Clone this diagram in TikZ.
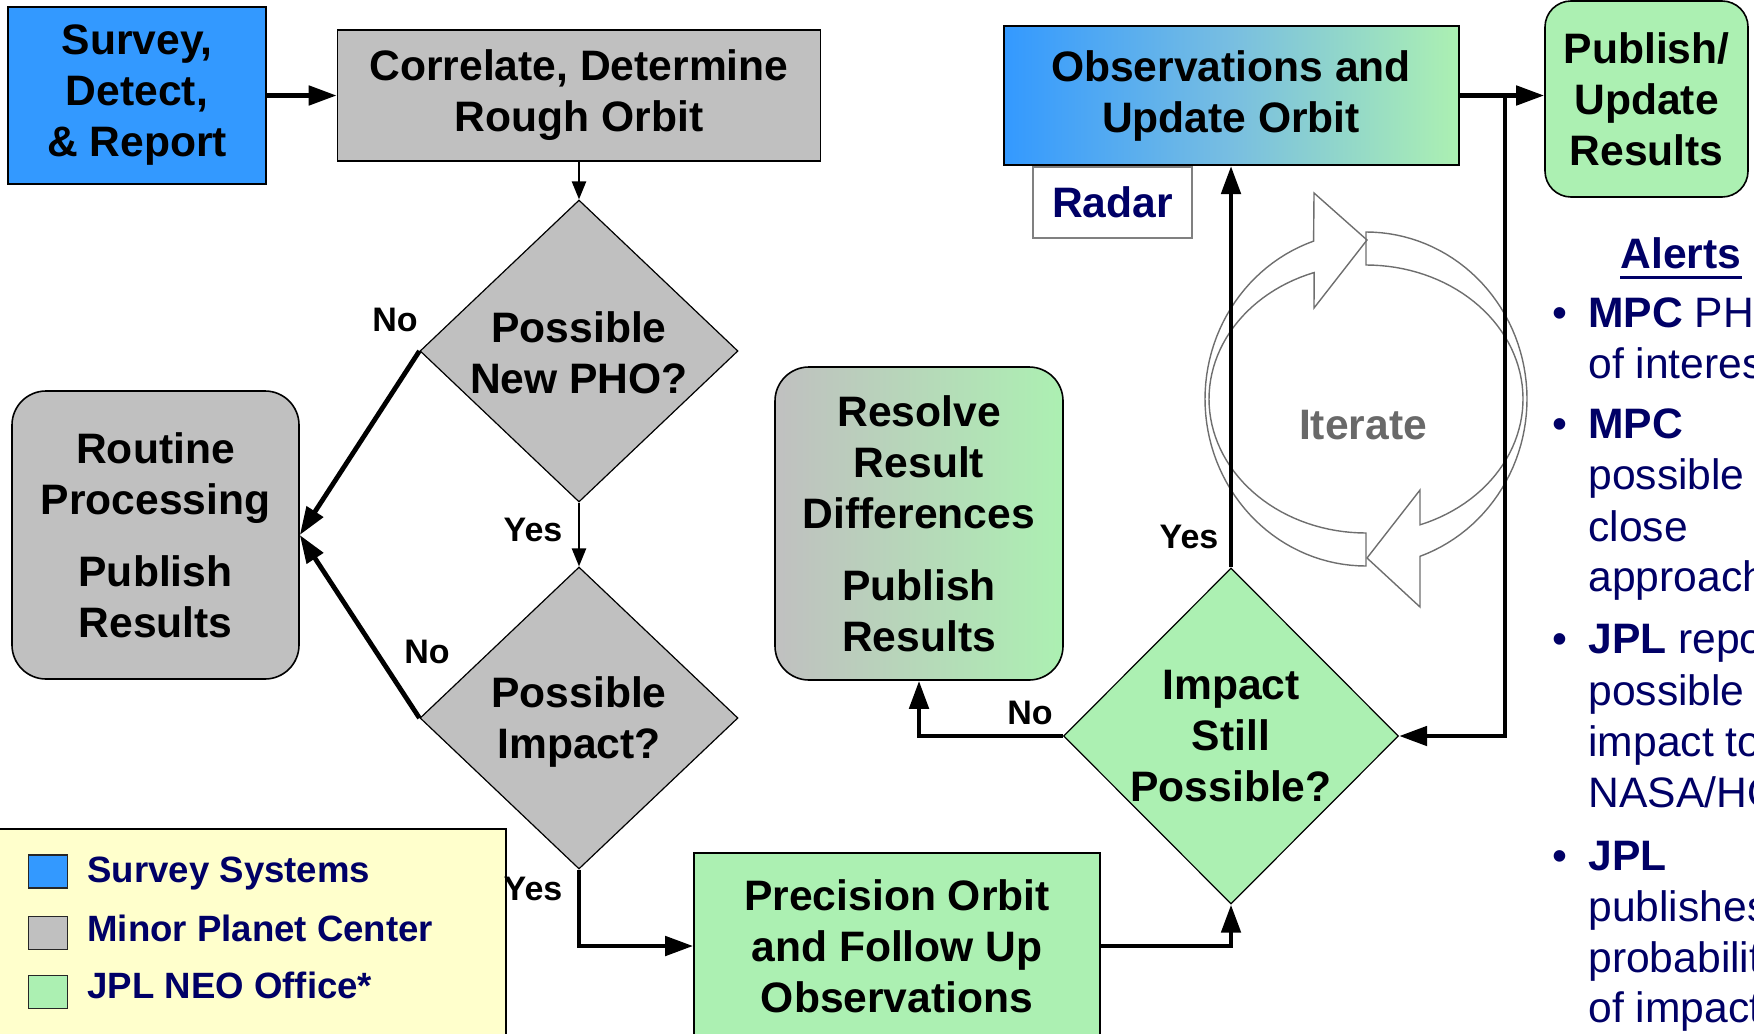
\documentclass[tikz,border=0pt]{standalone}
\usepackage{fontspec}
\setmainfont{Liberation Sans}
\usetikzlibrary{shapes.geometric, arrows.meta}

\definecolor{cblue}{RGB}{51,153,255}
\definecolor{cgray}{RGB}{192,192,192}
\definecolor{cgreen}{RGB}{172,240,178}
\definecolor{cyellow}{RGB}{255,255,204}
\definecolor{cnavy}{RGB}{0,0,102}
\definecolor{citer}{RGB}{105,105,105}
\definecolor{cmid}{RGB}{120,190,225}
\definecolor{cring}{RGB}{110,110,110}

\begin{document}
\begin{tikzpicture}[x=0.5pt, y=-0.5pt,
  boxfont/.style={font=\bfseries\fontsize{21.3}{25.5}\selectfont},
  box/.style={draw=black, line width=0.8pt, inner sep=0pt, align=center, boxfont},
  rbox/.style={box, rounded corners=17pt},
  dia/.style={diamond, draw=black, line width=0.6pt, inner sep=0pt},
  txt/.style={align=center, boxfont, inner sep=0pt},
  lbl/.style={font=\bfseries\fontsize{17}{20}\selectfont, inner sep=0pt},
  conn/.style={line width=2.4pt, -{Triangle[length=14pt,width=9.5pt]}},
  thinconn/.style={line width=1.2pt, -{Triangle[length=9pt,width=7pt]}},
  itr/.style={draw=cring, line width=0.7pt},
  sq/.style={draw=black!85, line width=0.7pt, minimum width=19.5pt, minimum height=16.5pt, inner sep=0pt},
  legtxt/.style={font=\bfseries\fontsize{18.3}{22}\selectfont, text=cnavy, inner sep=0pt},
  bul/.style={font=\fontsize{21.3}{25}\selectfont, text=cnavy, inner sep=0pt, anchor=base west},
  dot/.style={font=\fontsize{21.3}{25}\selectfont, text=cnavy, inner sep=0pt, anchor=base}
]
\useasboundingbox (0,0) rectangle (1754,1033);
\clip (0,0) rectangle (1754,1033);

% legend
\node[draw=black, line width=0.8pt, fill=cyellow, minimum width=255.5pt, minimum height=105.5pt, inner sep=0pt] (legend) at (250.5,934.5) {};
\node[sq, fill=cblue] (sq1) at (48,871.5) {};
\node[sq, fill=cgray] (sq2) at (48,933) {};
\node[sq, fill=cgreen] (sq3) at (48,992) {};
\node[legtxt, anchor=base west] (lg1) at (87,882) {Survey Systems};
\node[legtxt, anchor=base west] (lg2) at (87,941) {Minor Planet Center};
\node[legtxt, anchor=base west] (lg3) at (87,998) {JPL NEO Office*};

% iterate symbol
\draw[itr] plot[domain=90:251,samples=60] ({1366+161*cos(\x)},{399+167*sin(\x)})
  -- (1314,193) -- (1367,240) -- (1314,308)
  -- plot[domain=250.7:90,samples=60] ({1366+157*cos(\x)},{399+134*sin(\x)}) -- cycle;
\draw[itr] plot[domain=270:430.4,samples=60] ({1366+161*cos(\x)},{399+167*sin(\x)})
  -- (1420,607) -- (1367,558) -- (1420,490)
  -- plot[domain=429.9:270,samples=60] ({1366+157*cos(\x)},{399+134*sin(\x)}) -- cycle;
\node[font=\bfseries\fontsize{21.3}{25}\selectfont, text=citer, inner sep=0pt] (iter) at (1363,425) {Iterate};

% boxes
\node[box, fill=cblue, minimum width=129pt, minimum height=88.5pt] (survey) at (137,95.5) {Survey,\\Detect,\\\& Report};
\node[box, fill=cgray, minimum width=241.5pt, minimum height=65.5pt] (corr) at (579,95.5) {Correlate, Determine\\Rough Orbit};
\node[dia, fill=cgray, minimum width=159pt, minimum height=151pt] (d1) at (579,351) {};
\node[txt] (t1) at ([yshift=-1pt]d1.center) {Possible\\New PHO?};
\node[dia, fill=cgray, minimum width=159pt, minimum height=151pt] (d2) at (579,718) {};
\node[txt] (t2) at ([yshift=-2pt]d2.center) {Possible\\Impact?};
\node[rbox, fill=cgray, minimum width=143.5pt, minimum height=144pt] (rout) at (155.5,535) {Routine\\Processing\\[10.5pt]Publish\\Results};
\node[box, fill=cgreen, minimum width=203pt, minimum height=93pt] (prec) at (897,946) {Precision Orbit\\and Follow Up\\Observations};
\node[dia, fill=cgreen, minimum width=167.5pt, minimum height=168pt] (d3) at (1231,736) {};
\node[txt] (t3) at (d3.center) {Impact\\Still\\Possible?};
\node[rbox, left color=cgray, right color=cgreen, minimum width=144pt, minimum height=156.5pt] (res) at (919,523.5) {Resolve\\Result\\Differences\\[10.5pt]Publish\\Results};
\node[box, line width=1pt, left color=cblue, right color=cgreen, middle color=cmid, minimum width=227.5pt, minimum height=69.5pt] (obs) at (1231,95.5) {Observations and\\Update Orbit};
\node[draw=gray, line width=0.6pt, fill=white, minimum width=79.5pt, minimum height=35.5pt, inner sep=0pt, font=\bfseries\fontsize{21.3}{25}\selectfont, text=cnavy] (radar) at (1112.5,202.5) {Radar};
\node[rbox, rounded corners=13pt, fill=cgreen, minimum width=101.5pt, minimum height=98pt] (pub) at (1646.5,99) {Publish/\\Update\\Results};

% connectors
\draw[conn] (survey.east) -- (corr.west);
\draw[thinconn] (corr.south) -- (d1.north);
\draw[thinconn] (d1.south) -- (d2.north);
\draw[conn] (d1.west) -- (rout.east);
\draw[conn] (d2.west) -- (rout.east);
\draw[conn] (d2.south) |- (prec.west);
\draw[conn] (prec.east) -| (d3.south);
\draw[conn] (d3.west) -| (res.south);
\draw[conn] (d3.north) -- (obs.south);
\draw[conn] (obs.east) -- (obs.east -| pub.west);
\coordinate (jn) at (1505,95.5);
\draw[conn] (jn) |- (d3.east);

% labels
\node[lbl] (no1) at (395,320) {No};
\node[lbl] (yes1) at (533,530) {Yes};
\node[lbl] (no2) at (427,652) {No};
\node[lbl] (yes2) at (533,889) {Yes};
\node[lbl] (no3) at (1030,713) {No};
\node[lbl] (yes3) at (1189,537) {Yes};

% alerts
\node[font=\bfseries\fontsize{21.3}{25}\selectfont, text=cnavy, inner sep=0pt] (al) at (1681,253) {Alerts};
\draw[cnavy, line width=1.5pt] ([yshift=-4pt]al.south west) -- ([yshift=-4pt]al.south east);

\node[dot] (b1) at (1560,327) {•};
\node[bul] (l1) at (1588,327) {\textbf{MPC} PHO};
\node[bul] (l2) at (1588,378) {of interest};
\node[dot] (b2) at (1560,438) {•};
\node[bul] (l3) at (1588,438) {\textbf{MPC}};
\node[bul] (l4) at (1588,489) {possible};
\node[bul] (l5) at (1588,541) {close};
\node[bul] (l6) at (1588,591) {approach};
\node[dot] (b3) at (1560,653) {•};
\node[bul] (l7) at (1588,653) {\textbf{JPL} reports};
\node[bul] (l8) at (1588,705) {possible};
\node[bul] (l9) at (1588,756) {impact to};
\node[bul] (l10) at (1588,807) {NASA/HQ};
\node[dot] (b4) at (1560,870) {•};
\node[bul] (l11) at (1588,870) {\textbf{JPL}};
\node[bul] (l12) at (1588,921) {publishes};
\node[bul] (l13) at (1588,972) {probability};
\node[bul] (l14) at (1588,1022) {of impact};
\end{tikzpicture}
\end{document}
